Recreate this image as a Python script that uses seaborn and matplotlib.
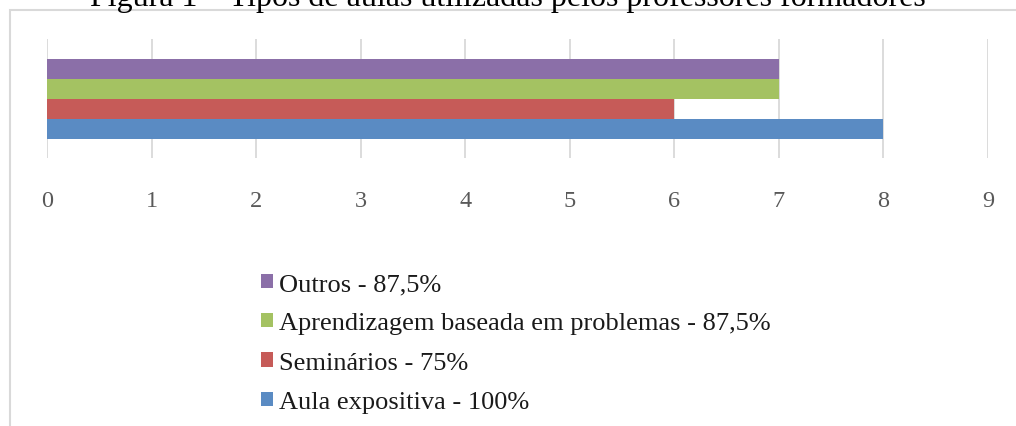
import matplotlib
matplotlib.use("Agg")
import matplotlib.pyplot as plt
import seaborn as sns
import pandas as pd
from matplotlib.patches import Rectangle

# ---- data ----
categories = ["Tipos de aulas"]
series_labels = ["Outros - 87,5%",
                 "Aprendizagem baseada em problemas - 87,5%",
                 "Seminários - 75%",
                 "Aula expositiva - 100%"]
values = [7, 7, 6, 8]
colors = ["#8B6FA8", "#A4C262", "#C65B58", "#5A8BC3"]
x_ticks = [0, 1, 2, 3, 4, 5, 6, 7, 8, 9]
title = "Figura 1 – Tipos de aulas utilizadas pelos professores formadores"

df = pd.DataFrame({"cat": categories * len(values),
                   "serie": series_labels,
                   "valor": values})

sns.set_theme(style="white")
plt.rcParams["font.family"] = ["Liberation Serif", "DejaVu Serif"]

W, H = 1016, 427
fig = plt.figure(figsize=(W / 100, H / 100), dpi=100)
ax = fig.add_axes([47 / W, 1 - 159 / H, (988 - 47) / W, (159 - 40) / H])

sns.barplot(data=df, x="valor", y="cat", hue="serie", hue_order=series_labels,
            palette=colors, orient="h", width=0.8, saturation=1,
            edgecolor="none", ax=ax)

ax.set_xlim(0, 9)
ax.set_ylim(0.584, -0.599)
ax.set_xticks(x_ticks)
ax.set_xticklabels([str(t) for t in x_ticks], fontsize=17.5, color="#595959")
ax.tick_params(axis="x", length=0, pad=23)
ax.set_yticks([])
ax.set_xlabel("")
ax.set_ylabel("")
for s in ax.spines.values():
    s.set_visible(False)
ax.grid(axis="x", color="#D9D9D9", linewidth=1.3)
ax.set_axisbelow(True)

# legend
handles, labels = ax.get_legend_handles_labels()
ax.legend(handles, labels, loc="upper left",
          bbox_to_anchor=(261 / W, 1 - 274 / H), bbox_transform=fig.transFigure,
          frameon=False, fontsize=19, handlelength=0.45, handleheight=0.45,
          handletextpad=0.25, labelspacing=0.66, borderaxespad=0, borderpad=0,
          labelcolor="#1a1a1a")

# chart border
fig.patches.append(Rectangle((9.5 / W, -0.05), 1.1, 1 - 11 / H + 0.05,
                             transform=fig.transFigure, fill=False,
                             edgecolor="#D9D9D9", linewidth=1.5))

# title (cut off at top, as in the reference)
t = fig.text(0.5, 1 - 6 / H, title, ha="center", va="baseline",
             fontsize=20, color="black")
fig.canvas.draw()
bb = t.get_window_extent()
t.set_fontsize(20 * 837 / bb.width)

fig.savefig("out.png", dpi=100)
